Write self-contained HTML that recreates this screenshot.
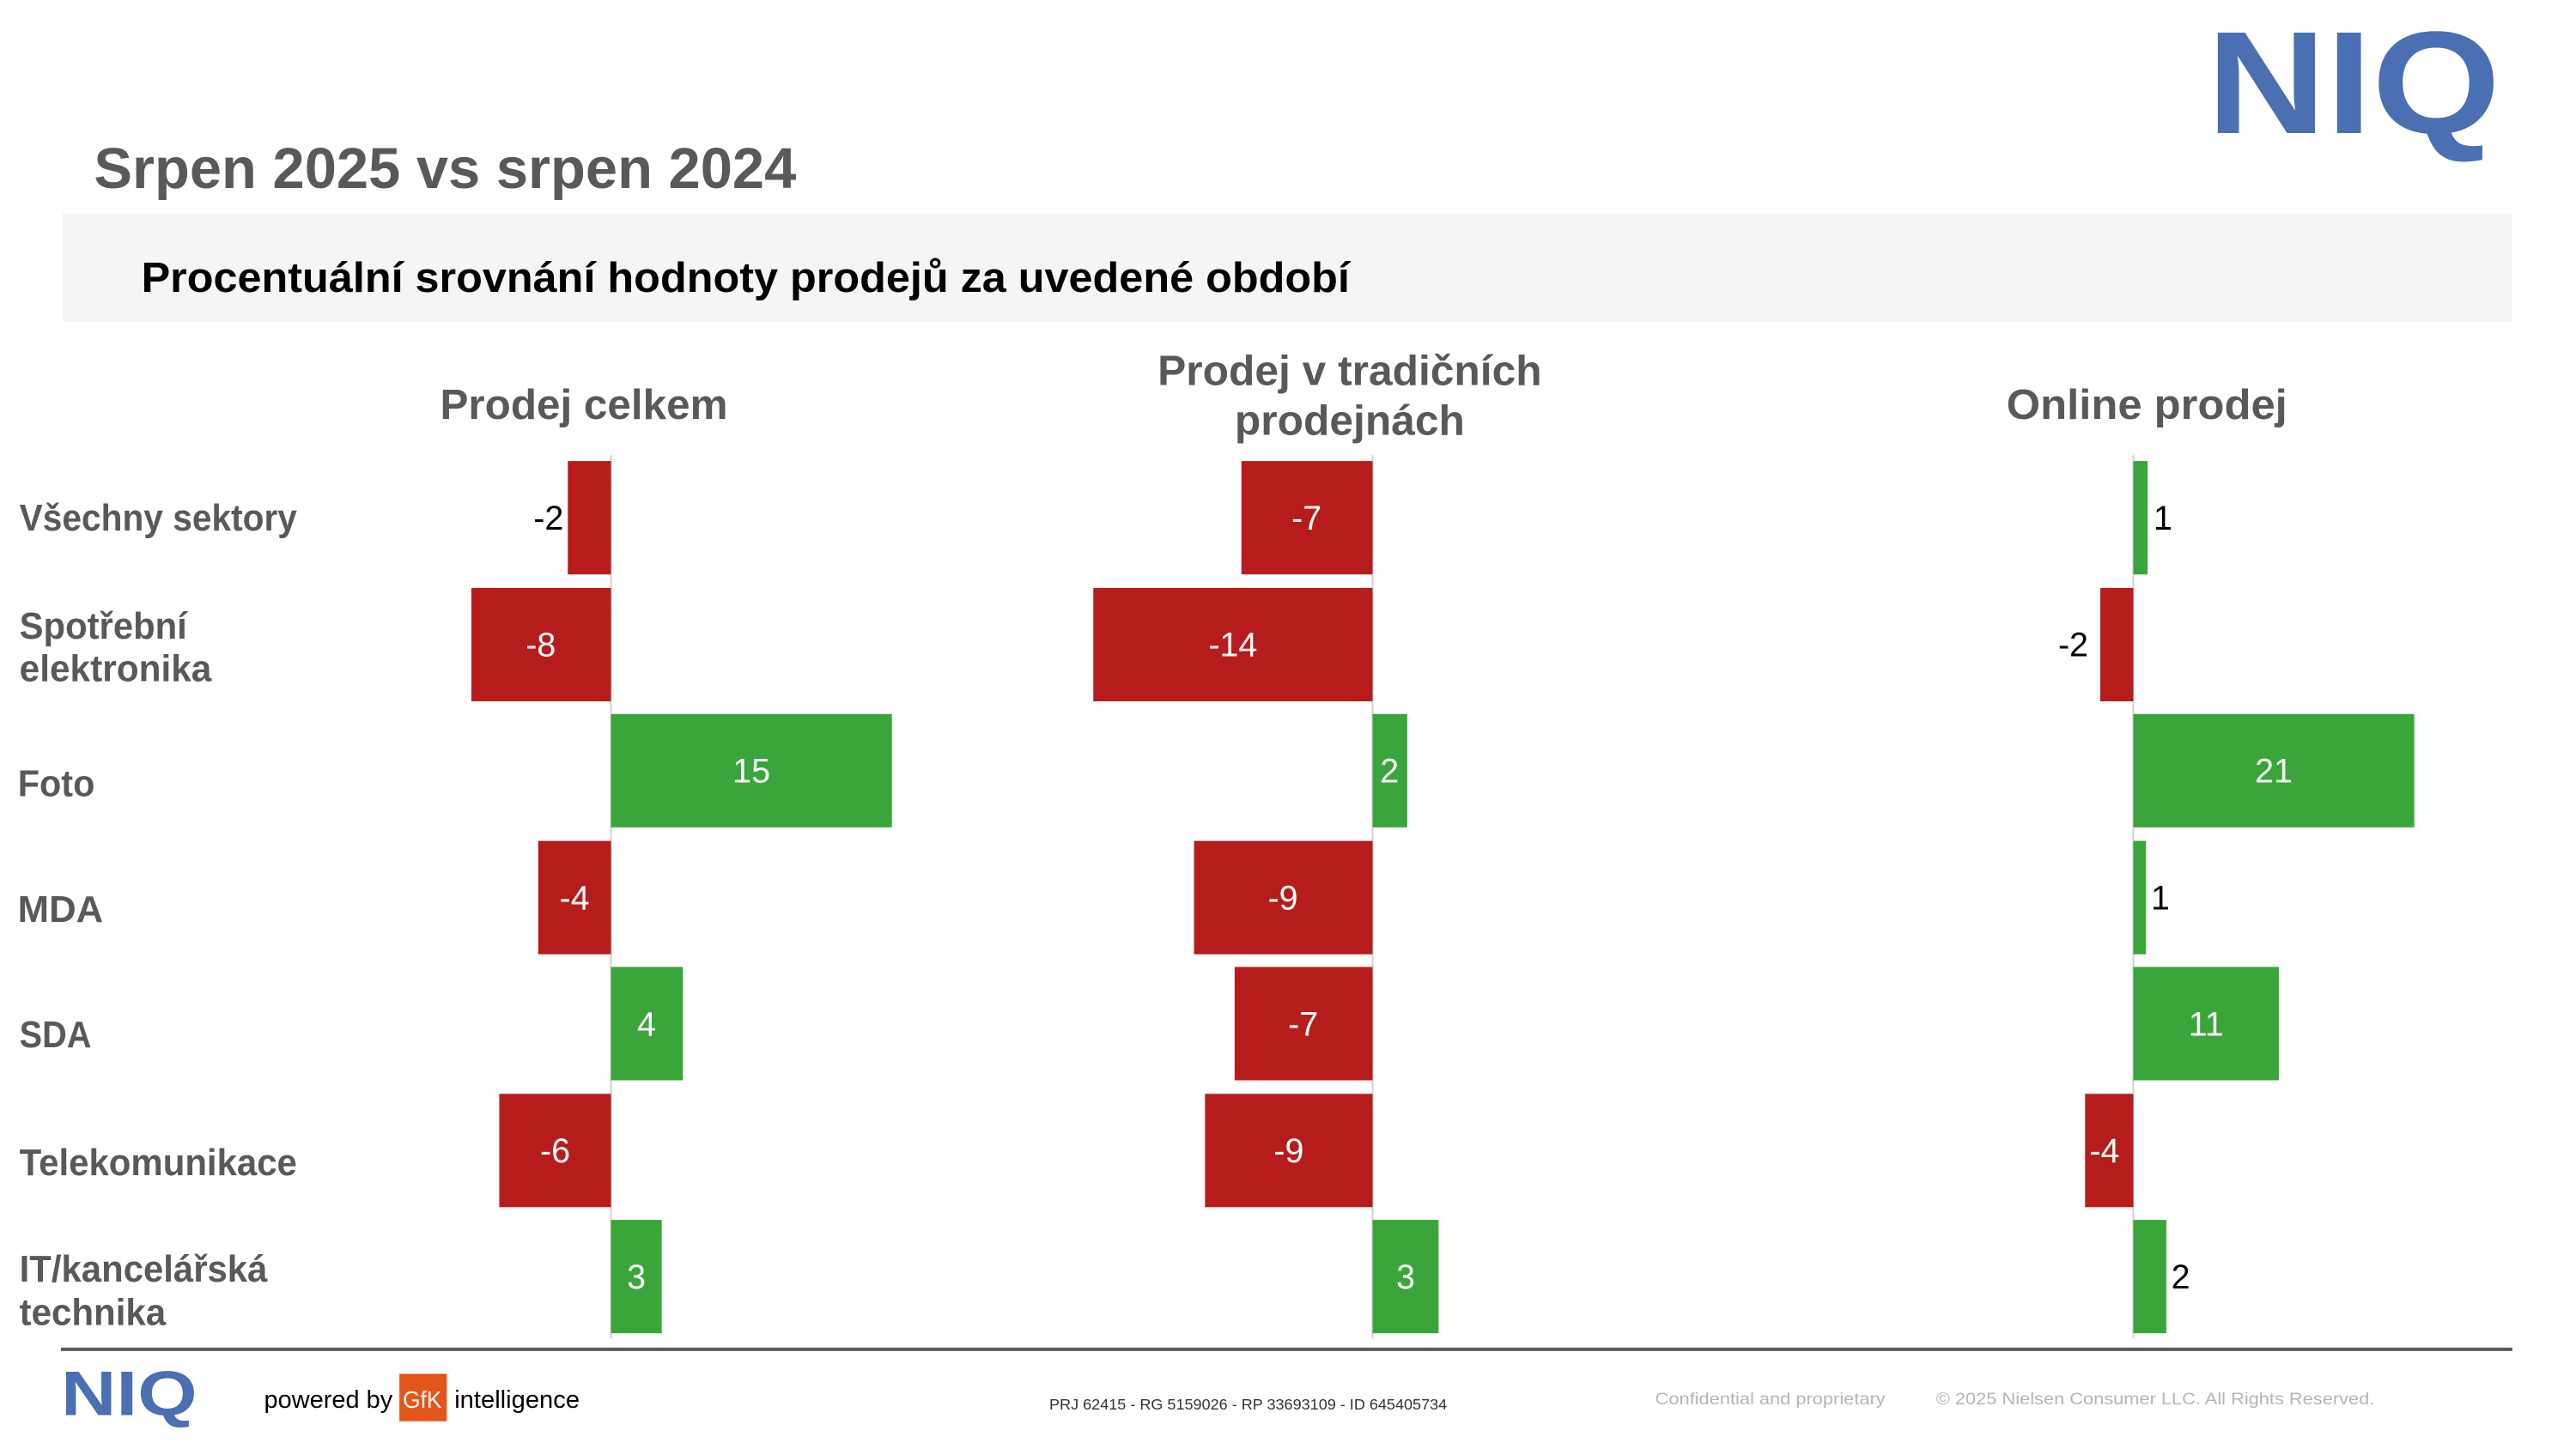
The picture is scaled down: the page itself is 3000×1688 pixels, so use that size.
<!DOCTYPE html>
<html><head><meta charset="utf-8"><style>
html,body{margin:0;padding:0;background:#fff;}
svg{display:block;}
text{font-family:"Liberation Sans",sans-serif;}
</style></head><body>
<svg width="3000" height="1688" viewBox="0 0 3000 1688" xmlns="http://www.w3.org/2000/svg">
<rect width="3000" height="1688" fill="#fff"/>
<text x="2570" y="155" font-size="170" font-weight="bold" fill="#4a6fb3" textLength="342" lengthAdjust="spacingAndGlyphs">NIQ</text>
<g transform="scale(0.9855)">
<text x="111" y="222" font-size="68" font-weight="bold" fill="#595959" textLength="830" lengthAdjust="spacingAndGlyphs">Srpen 2025 vs srpen 2024</text>
<rect x="74" y="252" width="2895" height="128" fill="#f5f5f7"/>
<text x="167" y="345" font-size="50" font-weight="bold" fill="#000" textLength="1428" lengthAdjust="spacingAndGlyphs">Procentuální srovnání hodnoty prodejů za uvedené období</text>
<g font-size="50" font-weight="bold" fill="#595959">
<text x="520" y="495" textLength="340" lengthAdjust="spacingAndGlyphs">Prodej celkem</text>
<text x="1368" y="455" textLength="454" lengthAdjust="spacingAndGlyphs">Prodej v tradičních</text>
<text x="1459" y="514" textLength="272" lengthAdjust="spacingAndGlyphs">prodejnách</text>
<text x="2371" y="495" textLength="332" lengthAdjust="spacingAndGlyphs">Online prodej</text>
</g>
<g font-size="44" font-weight="bold" fill="#595959">
<text x="23" y="627" textLength="328" lengthAdjust="spacingAndGlyphs">Všechny sektory</text>
<text x="23" y="755" textLength="198" lengthAdjust="spacingAndGlyphs">Spotřební</text>
<text x="23" y="805" textLength="227" lengthAdjust="spacingAndGlyphs">elektronika</text>
<text x="21" y="941" textLength="91" lengthAdjust="spacingAndGlyphs">Foto</text>
<text x="21" y="1090" textLength="101" lengthAdjust="spacingAndGlyphs">MDA</text>
<text x="23" y="1238" textLength="85" lengthAdjust="spacingAndGlyphs">SDA</text>
<text x="23" y="1389" textLength="328" lengthAdjust="spacingAndGlyphs">Telekomunikace</text>
<text x="23" y="1515" textLength="293" lengthAdjust="spacingAndGlyphs">IT/kancelářská</text>
<text x="23" y="1566" textLength="173" lengthAdjust="spacingAndGlyphs">technika</text>
</g>
<g stroke="#d0d0d0" stroke-width="2">
<line x1="722" y1="538" x2="722" y2="1582"/>
<line x1="1622" y1="538" x2="1622" y2="1582"/>
<line x1="2521" y1="538" x2="2521" y2="1582"/>
</g>
<g>
<rect x="671" y="545" width="51" height="134" fill="#b71c1c"/>
<rect x="557" y="695" width="165" height="134" fill="#b71c1c"/>
<rect x="722" y="844" width="332" height="134" fill="#3aa53a"/>
<rect x="636" y="994" width="86" height="134" fill="#b71c1c"/>
<rect x="722" y="1143" width="85" height="134" fill="#3aa53a"/>
<rect x="590" y="1293" width="132" height="134" fill="#b71c1c"/>
<rect x="722" y="1442" width="60" height="134" fill="#3aa53a"/>
<rect x="1467" y="545" width="155" height="134" fill="#b71c1c"/>
<rect x="1292" y="695" width="330" height="134" fill="#b71c1c"/>
<rect x="1622" y="844" width="41" height="134" fill="#3aa53a"/>
<rect x="1411" y="994" width="211" height="134" fill="#b71c1c"/>
<rect x="1459" y="1143" width="163" height="134" fill="#b71c1c"/>
<rect x="1424" y="1293" width="198" height="134" fill="#b71c1c"/>
<rect x="1622" y="1442" width="78" height="134" fill="#3aa53a"/>
<rect x="2521" y="545" width="17" height="134" fill="#3aa53a"/>
<rect x="2482" y="695" width="39" height="134" fill="#b71c1c"/>
<rect x="2521" y="844" width="332" height="134" fill="#3aa53a"/>
<rect x="2521" y="994" width="15" height="134" fill="#3aa53a"/>
<rect x="2521" y="1143" width="172" height="134" fill="#3aa53a"/>
<rect x="2464" y="1293" width="57" height="134" fill="#b71c1c"/>
<rect x="2521" y="1442" width="39" height="134" fill="#3aa53a"/>
</g>
<g font-size="40" text-anchor="middle" fill="#fff">
<text x="640" y="626" fill="#000" text-anchor="end" dx="26">-2</text>
<text x="639" y="776">-8</text>
<text x="888" y="925">15</text>
<text x="679" y="1075">-4</text>
<text x="764" y="1224">4</text>
<text x="656" y="1374">-6</text>
<text x="752" y="1523">3</text>
<text x="1544" y="626">-7</text>
<text x="1457" y="776">-14</text>
<text x="1642" y="925">2</text>
<text x="1516" y="1075">-9</text>
<text x="1540" y="1224">-7</text>
<text x="1523" y="1374">-9</text>
<text x="1661" y="1523">3</text>
<text x="2556" y="626" fill="#000">1</text>
<text x="2450" y="776" fill="#000">-2</text>
<text x="2687" y="925">21</text>
<text x="2553" y="1075" fill="#000">1</text>
<text x="2607" y="1224">11</text>
<text x="2487" y="1374">-4</text>
<text x="2577" y="1523" fill="#000">2</text>
</g>
<rect x="72" y="1593" width="2897" height="4" fill="#595959"/>
<text x="72" y="1673" font-size="74" font-weight="bold" fill="#4a6fb3" textLength="161" lengthAdjust="spacingAndGlyphs">NIQ</text>
<text x="312" y="1664" font-size="29" fill="#000" textLength="152" lengthAdjust="spacingAndGlyphs">powered by</text>
<rect x="472" y="1624" width="56" height="56" fill="#e4551a"/>
<text x="476" y="1664" font-size="28" fill="#fff" textLength="46" lengthAdjust="spacingAndGlyphs">GfK</text>
<text x="537" y="1664" font-size="29" fill="#000" textLength="148" lengthAdjust="spacingAndGlyphs">intelligence</text>
<text x="1240" y="1666" font-size="18" fill="#333" textLength="470" lengthAdjust="spacingAndGlyphs">PRJ 62415 - RG 5159026 - RP 33693109 - ID 645405734</text>
<text x="1956" y="1660" font-size="20" fill="#b5b5b5" textLength="272" lengthAdjust="spacingAndGlyphs">Confidential and proprietary</text>
<text x="2288" y="1660" font-size="20" fill="#b5b5b5" textLength="518" lengthAdjust="spacingAndGlyphs">© 2025 Nielsen Consumer LLC. All Rights Reserved.</text>
</g>
</svg>
</body></html>
